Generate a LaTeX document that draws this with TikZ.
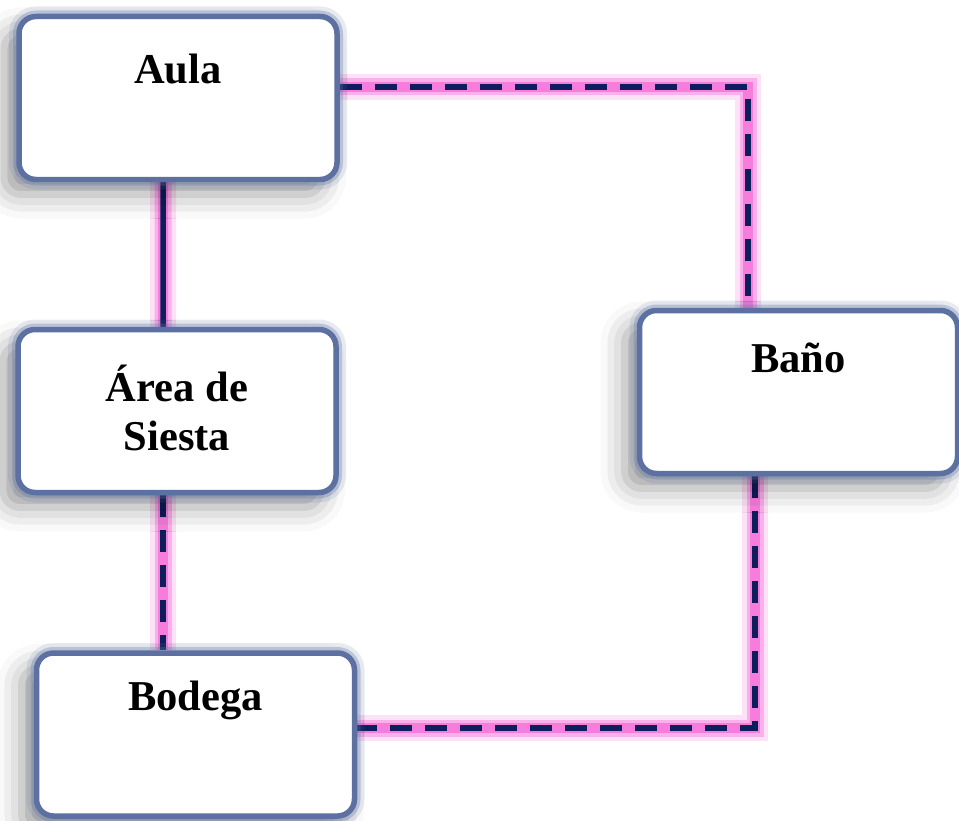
\documentclass[tikz,border=0pt]{standalone}
\usepackage{fontspec}
\setmainfont{Liberation Serif}
\usetikzlibrary{shadows.blur,backgrounds}
\definecolor{rahmen}{RGB}{92,112,162}
\definecolor{glow}{RGB}{246,104,214}
\definecolor{linie}{RGB}{12,30,92}
\begin{document}
\begin{tikzpicture}[
room/.style={rectangle,rounded corners=0.17cm,draw=rahmen,line width=0.055cm,fill=white,
  minimum width=3.18cm,minimum height=1.63cm,
  blur shadow={shadow xshift=-0.15cm,shadow yshift=-0.15cm,shadow blur radius=0.24cm,shadow opacity=38},
  preaction={draw=rahmen,line width=0.2cm,draw opacity=0.15},
  preaction={draw=rahmen,line width=0.12cm,draw opacity=0.3}},
label/.style={font=\bfseries\fontsize{12.1}{14.2}\selectfont,align=center},
glow1/.style={draw=glow,line width=0.26cm,opacity=0.2},
glow2/.style={draw=glow,line width=0.17cm,opacity=0.4},
glow3/.style={draw=glow,line width=0.1cm,opacity=0.7},
conn/.style={draw=linie,line width=0.055cm},
gestr/.style={conn,dash pattern=on 0.22cm off 0.13cm}]

\useasboundingbox (0,0) rectangle (9.59,-8.20);

% Kaesten
\node[room] (aula) at (1.78,-0.98) {};
\node[label] (aulaText) at ([yshift=-0.55cm]aula.north) {Aula};

\node[room] (siesta) at (1.77,-4.11) {};
\node[label] (siestaText) at ([yshift=0.03cm]siesta.center) {Área de\\Siesta};

\node[room] (bodega) at (1.955,-7.345) {};
\node[label] (bodegaText) at ([yshift=-0.5cm]bodega.north) {Bodega};

\node[room] (bano) at (7.985,-3.92) {};
\node[label] (banoText) at ([yshift=-0.5cm]bano.north) {Baño};

% Verbindungen
\begin{scope}[on background layer]
\foreach \g in {glow1,glow2,glow3,conn}{
  \draw[\g] ([xshift=-0.15cm]aula.south) -- ([xshift=-0.14cm]siesta.north);
}
\foreach \g in {glow1,glow2,glow3,gestr}{
  \draw[\g] ([xshift=-0.14cm]siesta.south) -- ([xshift=-0.325cm]bodega.north);
  \draw[\g] ([yshift=0.11cm]aula.east) -| ([xshift=-0.505cm]bano.north);
  \draw[\g] ([xshift=-0.435cm]bano.south) |- ([yshift=0.065cm]bodega.east);
}
\end{scope}

\end{tikzpicture}
\end{document}
